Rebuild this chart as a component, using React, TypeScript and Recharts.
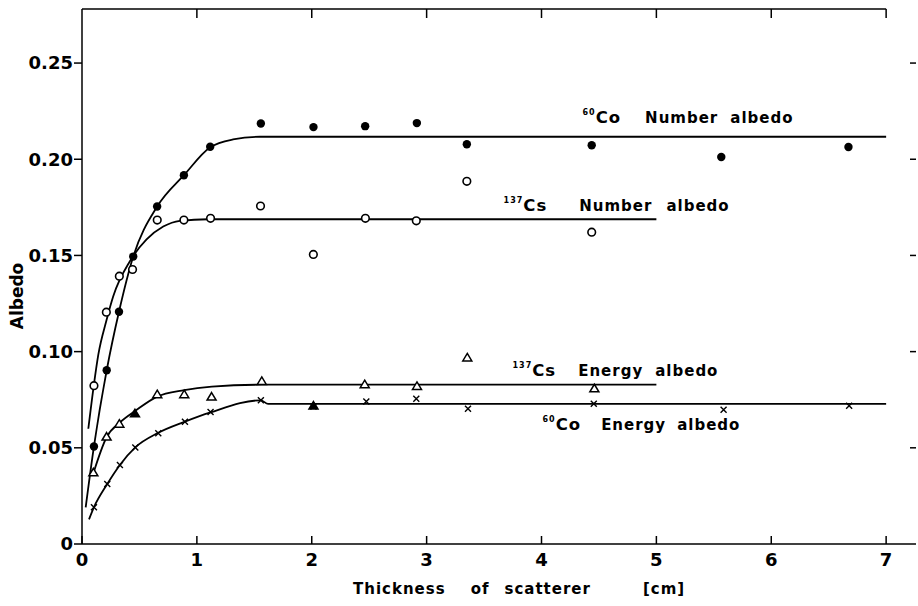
import {
  ComposedChart,
  Line,
  ReferenceDot,
  ReferenceLine,
  Scatter,
  XAxis,
  YAxis,
} from "recharts";

const FONT = "'DejaVu Sans', sans-serif";

const xTicks = [0, 1, 2, 3, 4, 5, 6, 7];
const topTicks = [1, 2, 3, 4, 5, 6, 7];
const yTicks = [0, 0.05, 0.1, 0.15, 0.2, 0.25];
const rightTicks = [0.05, 0.1, 0.15, 0.2, 0.25];
const X_MAX = 7.26;
const Y_MAX = 0.2781;

// measured points, thickness [cm] vs albedo
const coNumberX = [0.104, 0.215, 0.322, 0.446, 0.654, 0.887, 1.116, 1.557, 2.015, 2.465, 2.915, 3.35, 4.437, 5.565, 6.672];
const coNumberY = [0.0507, 0.0903, 0.1207, 0.1494, 0.1754, 0.1917, 0.2065, 0.2186, 0.2167, 0.2172, 0.2188, 0.2078, 0.2073, 0.2012, 0.2064];

const csNumberX = [0.104, 0.212, 0.325, 0.44, 0.655, 0.887, 1.119, 1.554, 2.014, 2.467, 2.91, 3.35, 4.437];
const csNumberY = [0.0823, 0.1205, 0.1392, 0.1427, 0.1684, 0.1684, 0.1693, 0.1757, 0.1505, 0.1693, 0.168, 0.1885, 0.1621];

const csEnergyX = [0.099, 0.214, 0.325, 0.655, 0.89, 1.128, 1.565, 2.461, 2.916, 3.354, 4.46];
const csEnergyY = [0.037, 0.0556, 0.0623, 0.0776, 0.0776, 0.0764, 0.0845, 0.0828, 0.0819, 0.0967, 0.0807];
// two triangles print solid
const csEnergySolidX = [0.461, 2.015];
const csEnergySolidY = [0.0677, 0.0717];

const coEnergyX = [0.104, 0.22, 0.33, 0.464, 0.664, 0.896, 1.119, 1.557, 2.015, 2.475, 2.91, 3.36, 4.455, 5.585, 6.678];
const coEnergyY = [0.0191, 0.0312, 0.0411, 0.0502, 0.0576, 0.0635, 0.0686, 0.0747, 0.0715, 0.0741, 0.0755, 0.0703, 0.0729, 0.0698, 0.0719];

// hand-drawn fitted curves
const coNumberCurveX = [0.032, 0.104, 0.215, 0.322, 0.446, 0.654, 0.887, 1.116, 1.315, 1.55, 7];
const coNumberCurveY = [0.019, 0.0507, 0.0903, 0.1207, 0.1494, 0.1754, 0.1917, 0.2062, 0.2103, 0.2117, 0.2117];

const csNumberCurveX = [0.055, 0.104, 0.142, 0.212, 0.272, 0.417, 0.562, 0.707, 0.852, 1.1, 5];
const csNumberCurveY = [0.0599, 0.083, 0.0984, 0.116, 0.1288, 0.147, 0.1583, 0.165, 0.168, 0.1688, 0.1688];

const csEnergyCurveX = [0.099, 0.214, 0.33, 0.47, 0.65, 0.89, 1.13, 1.565, 5];
const csEnergyCurveY = [0.0368, 0.0555, 0.0632, 0.0695, 0.0765, 0.08, 0.0818, 0.0828, 0.0828];

const coEnergyCurveX = [0.061, 0.104, 0.22, 0.33, 0.464, 0.664, 0.896, 1.119, 1.557, 1.62, 7];
const coEnergyCurveY = [0.0128, 0.0191, 0.0312, 0.0411, 0.0502, 0.0578, 0.0636, 0.0684, 0.0747, 0.0728, 0.0728];

const zip = (xs: number[], ys: number[]) => xs.map((x, i) => ({ x, y: ys[i] }));

const FilledDot = ({ cx, cy }: any) => <circle cx={cx} cy={cy} r={4.2} fill="#000" />;
const OpenDot = ({ cx, cy }: any) => (
  <circle cx={cx} cy={cy} r={3.8} fill="#fff" stroke="#000" strokeWidth={1.6} />
);
const triPoints = (cx: number, cy: number) =>
  `${cx},${cy - 4.5} ${cx + 4.5},${cy + 3} ${cx - 4.5},${cy + 3}`;
const OpenTri = ({ cx, cy }: any) => (
  <polygon points={triPoints(cx, cy)} fill="#fff" stroke="#000" strokeWidth={1.5} />
);
const SolidTri = ({ cx, cy }: any) => (
  <polygon points={triPoints(cx, cy)} fill="#000" stroke="#000" strokeWidth={1.5} />
);
const Cross = ({ cx, cy }: any) => (
  <path
    d={`M${cx - 3},${cy - 3}L${cx + 3},${cy + 3}M${cx + 3},${cy - 3}L${cx - 3},${cy + 3}`}
    stroke="#000"
    strokeWidth={1.4}
  />
);

// tick marks only, no label
const NoLabel = () => <g />;

const Note = ({ viewBox, iso, el, words, gaps }: any) => (
  <text x={viewBox.x} y={viewBox.y} fontFamily={FONT} fontWeight="bold" fontSize={15} letterSpacing={1} fill="#000">
    <tspan fontSize={8} dy={-8}>{iso}</tspan>
    <tspan dy={8} fontSize={16.5} letterSpacing={1}>{el}</tspan>
    <tspan dx={gaps[0]}>{words[0]}</tspan>
    <tspan dx={gaps[1]}>{words[1]}</tspan>
  </text>
);

const XTitle = ({ viewBox }: any) => (
  <text x={viewBox.x + 271} y={594} fontFamily={FONT} fontWeight="bold" fontSize={15} letterSpacing={1} fill="#000">
    <tspan>Thickness</tspan>
    <tspan dx={25}>of</tspan>
    <tspan dx={15}>scatterer</tspan>
    <tspan dx={52}>[cm]</tspan>
  </text>
);

const YTitle = () => (
  <text
    x={23}
    y={296}
    transform="rotate(-90 23 296)"
    textAnchor="middle"
    fontFamily={FONT}
    fontWeight="bold"
    fontSize={17}
    fill="#000"
  >
    Albedo
  </text>
);

const tickStyle = { fontFamily: FONT, fontWeight: "bold", fontSize: 18, fill: "#000" };
const axisStroke = { stroke: "#000", strokeWidth: 1.5 };

export default function App() {
  return (
    <div style={{ position: "absolute", left: 0, top: 0, width: 918, height: 606, background: "#fff" }}>
      <ComposedChart width={918} height={606} margin={{ top: 8, right: 0, bottom: 0, left: 0 }}>
        <XAxis
          dataKey="x"
          type="number"
          domain={[0, X_MAX]}
          allowDataOverflow
          ticks={xTicks}
          interval={0}
          height={62}
          tickSize={-8}
          tickMargin={17}
          tick={tickStyle}
          axisLine={axisStroke}
          tickLine={axisStroke}
          label={<XTitle />}
        />
        <XAxis
          xAxisId="top"
          orientation="top"
          dataKey="x"
          type="number"
          domain={[0, X_MAX]}
          allowDataOverflow
          ticks={topTicks}
          interval={0}
          height={1}
          tickSize={-9}
          tick={NoLabel}
          axisLine={false}
          tickLine={axisStroke}
        />
        <YAxis
          type="number"
          domain={[0, Y_MAX]}
          allowDataOverflow
          ticks={yTicks}
          interval={0}
          width={82}
          tickSize={8}
          tickMargin={1}
          tick={tickStyle}
          tickFormatter={(v: number) => (v === 0 ? "0" : v.toFixed(2))}
          axisLine={axisStroke}
          tickLine={axisStroke}
          label={<YTitle />}
        />
        <YAxis
          yAxisId="r"
          orientation="right"
          type="number"
          domain={[0, Y_MAX]}
          allowDataOverflow
          ticks={rightTicks}
          interval={0}
          width={2}
          tickSize={-6}
          tick={NoLabel}
          axisLine={false}
          tickLine={axisStroke}
        />

        <ReferenceLine
          segment={[{ x: 0, y: Y_MAX }, { x: 7, y: Y_MAX }]}
          stroke="#000"
          strokeWidth={1.5}
          ifOverflow="visible"
        />

        <Line data={zip(coNumberCurveX, coNumberCurveY)} dataKey="y" type="monotone" stroke="#000" strokeWidth={1.8} dot={false} isAnimationActive={false} />
        <Line data={zip(csNumberCurveX, csNumberCurveY)} dataKey="y" type="monotone" stroke="#000" strokeWidth={1.8} dot={false} isAnimationActive={false} />
        <Line data={zip(csEnergyCurveX, csEnergyCurveY)} dataKey="y" type="monotone" stroke="#000" strokeWidth={1.8} dot={false} isAnimationActive={false} />
        <Line data={zip(coEnergyCurveX, coEnergyCurveY)} dataKey="y" type="monotone" stroke="#000" strokeWidth={1.8} dot={false} isAnimationActive={false} />

        <Scatter data={zip(coNumberX, coNumberY)} dataKey="y" shape={FilledDot} isAnimationActive={false} />
        <Scatter data={zip(csNumberX, csNumberY)} dataKey="y" shape={OpenDot} isAnimationActive={false} />
        <Scatter data={zip(coEnergyX, coEnergyY)} dataKey="y" shape={Cross} isAnimationActive={false} />
        <Scatter data={zip(csEnergyX, csEnergyY)} dataKey="y" shape={OpenTri} isAnimationActive={false} />
        <Scatter data={zip(csEnergySolidX, csEnergySolidY)} dataKey="y" shape={SolidTri} isAnimationActive={false} />

        <ReferenceDot x={4.357} y={0.2188} r={0} stroke="none" label={<Note iso="60" el="Co" words={["Number", "albedo"]} gaps={[24, 12]} />} />
        <ReferenceDot x={3.67} y={0.1729} r={0} stroke="none" label={<Note iso="137" el="Cs" words={["Number", "albedo"]} gaps={[32, 14]} />} />
        <ReferenceDot x={3.748} y={0.0875} r={0} stroke="none" label={<Note iso="137" el="Cs" words={["Energy", "albedo"]} gaps={[22, 12]} />} />
        <ReferenceDot x={4.009} y={0.0594} r={0} stroke="none" label={<Note iso="60" el="Co" words={["Energy", "albedo"]} gaps={[20, 11]} />} />
      </ComposedChart>
    </div>
  );
}
